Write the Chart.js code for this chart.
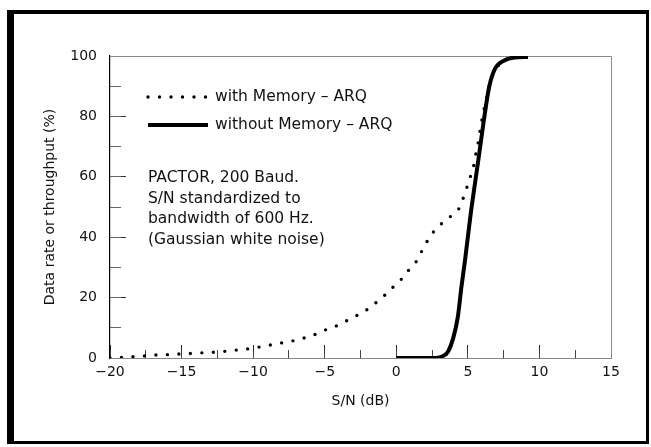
<!DOCTYPE html>
<html lang="en">
<head>
  <meta charset="UTF-8">
  <title>PACTOR throughput vs S/N</title>
  <script src="https://cdn.jsdelivr.net/npm/chart.js"></script>
  <style>
    html, body { margin: 0; padding: 0; background: #fff; }
    #wrap { position: relative; width: 651px; height: 447px; }
    #frame {
      position: absolute; left: 7px; top: 10px; width: 632px; height: 427px;
      border-left: 7px solid #000; border-top: 4px solid #000;
      border-right: 3px solid #000; border-bottom: 3px solid #000;
      pointer-events: none;
    }
    canvas { position: absolute; left: 0; top: 0; }
  </style>
</head>
<body>
  <div id="wrap">
    <canvas id="snChart" width="651" height="447"></canvas>
    <div id="frame"></div>
  </div>

  <script>
    // values
    const withMemX = [-20, -19.2, -18.4, -17.6, -16.8, -16, -15.2, -14.4, -13.6, -12.8, -12, -11.2, -10.4, -9.6, -8.8, -8, -7.2, -6.4, -5.6, -4.85, -4.1, -3.4, -2.7, -2.05, -1.4, -0.78, -0.22, 0.34, 0.85, 1.39, 1.78, 2.13, 2.59, 3.17, 3.8, 4.38, 4.68, 4.94, 5.2, 5.43, 5.57, 5.73, 5.85, 6.0, 6.3, 6.6, 7.0, 7.6, 8.3, 9.2];
    const withMemY = [0, 0.2, 0.4, 0.7, 1.0, 1.1, 1.3, 1.5, 1.7, 1.9, 2.2, 2.6, 3.0, 3.6, 4.3, 5.0, 5.7, 6.7, 7.9, 9.5, 10.8, 12.5, 14.2, 16, 18.4, 20.9, 23.5, 26, 29, 31.9, 35.4, 38.4, 41.7, 44.5, 46.9, 49.5, 53, 56.6, 60.4, 64.1, 67.9, 71.5, 75.4, 79.3, 86, 92, 96, 98.6, 99.5, 99.7];

    const noMemX = [0, 2.7, 3.2, 3.6, 4.0, 4.3, 4.55, 4.82, 5.18, 5.73, 6.25, 6.5, 6.9, 7.58, 8.28, 9.2];
    const noMemY = [0, 0, 0.5, 2, 7, 13.6, 23.5, 33, 47, 65.5, 83, 90, 95.8, 98.6, 99.5, 99.7];

    const seriesNames = ['with Memory \u2013 ARQ', 'without Memory \u2013 ARQ'];
    const noteLines = ['PACTOR, 200 Baud.', 'S/N standardized to', 'bandwidth of 600 Hz.', '(Gaussian white noise)'];

    const xTickValues = [-20, -15, -10, -5, 0, 5, 10, 15];
    const xTickLabels = ['\u221220', '\u221215', '\u221210', '\u22125', '0', '5', '10', '15'];
    const yTickValues = [0, 20, 40, 60, 80, 100];
    const yTickLabels = ['0', '20', '40', '60', '80', '100'];

    const FONT = 'DejaVu Sans';
    const INK = '#111';

    function toPoints(xs, ys) {
      return xs.map((x, i) => ({ x: x, y: ys[i] }));
    }

    function labelFor(values, labels) {
      return v => {
        const i = values.indexOf(v);
        return i >= 0 ? labels[i] : '';
      };
    }

    // thin box around the plot area (top and right sides)
    const plotBox = {
      id: 'plotBox',
      beforeDatasetsDraw(chart) {
        const { ctx, chartArea: a } = chart;
        ctx.save();
        ctx.strokeStyle = '#8a8a8a';
        ctx.lineWidth = 1;
        ctx.beginPath();
        ctx.moveTo(a.left, a.top + 0.5);
        ctx.lineTo(a.right + 0.5, a.top + 0.5);
        ctx.lineTo(a.right + 0.5, a.bottom);
        ctx.stroke();
        ctx.restore();
      }
    };

    // legend rows and the note, drawn inside the plot
    const insideText = {
      id: 'insideText',
      afterDatasetsDraw(chart) {
        const { ctx, chartArea: a } = chart;
        const x0 = a.left + 38;
        const lineLen = 60;
        ctx.save();
        ctx.font = '15.5px "' + FONT + '"';
        ctx.fillStyle = INK;
        ctx.textBaseline = 'middle';
        const rows = [a.top + 41, a.top + 69];
        chart.data.datasets.forEach((ds, i) => {
          const y = rows[i];
          ctx.save();
          ctx.strokeStyle = ds.borderColor;
          ctx.lineWidth = ds.borderWidth;
          ctx.lineCap = ds.borderCapStyle || 'butt';
          ctx.setLineDash(ds.borderDash || []);
          ctx.beginPath();
          ctx.moveTo(x0, y);
          ctx.lineTo(x0 + lineLen, y);
          ctx.stroke();
          ctx.restore();
          ctx.fillText(ds.label, x0 + lineLen + 7, y);
        });
        noteLines.forEach((t, i) => {
          ctx.fillText(t, x0, a.top + 122 + i * 20.5);
        });
        ctx.restore();
      }
    };

    new Chart(document.getElementById('snChart'), {
      type: 'line',
      data: {
        datasets: [{
          label: seriesNames[0],
          data: toPoints(withMemX, withMemY),
          borderColor: '#000',
          borderWidth: 3.4,
          borderDash: [0, 11.5],
          borderCapStyle: 'round',
          pointRadius: 0,
          cubicInterpolationMode: 'monotone',
          fill: false
        }, {
          label: seriesNames[1],
          data: toPoints(noMemX, noMemY),
          borderColor: '#000',
          borderWidth: 4,
          borderCapStyle: 'butt',
          pointRadius: 0,
          cubicInterpolationMode: 'monotone',
          fill: false
        }]
      },
      options: {
        responsive: false,
        animation: false,
        layout: { padding: { left: 34, top: 56, right: 40, bottom: 30 } },
        plugins: { legend: { display: false }, tooltip: { enabled: false } },
        scales: {
          x: {
            type: 'linear', position: 'bottom', min: -20, max: 15,
            afterBuildTicks: s => { s.ticks = xTickValues.map(v => ({ value: v })); },
            afterFit: s => { s.height = 59; },
            grid: { drawOnChartArea: false, tickLength: -13, color: '#222', lineWidth: 1 },
            border: { color: '#888', width: 1, dash: [6, 2] },
            ticks: { padding: 19, color: INK, font: { family: FONT, size: 14 }, maxRotation: 0, callback: labelFor(xTickValues, xTickLabels) },
            title: { display: true, text: 'S/N (dB)', color: INK, font: { family: FONT, size: 14 }, padding: { bottom: 7 } }
          },
          xMinor: {
            type: 'linear', position: 'bottom', min: -20, max: 15, weight: -1,
            ticks: { display: false, stepSize: 2.5 },
            afterFit: s => { s.height = 0; },
            grid: { drawOnChartArea: false, tickLength: -8, color: '#444', lineWidth: 1 },
            border: { display: false }
          },
          y: {
            type: 'linear', position: 'left', min: 0, max: 100,
            afterBuildTicks: s => { s.ticks = yTickValues.map(v => ({ value: v })); },
            afterFit: s => { s.width = 76; },
            grid: { drawOnChartArea: false, tickLength: -16, color: '#333', lineWidth: 1 },
            border: { color: '#000', width: 1.2 },
            ticks: { padding: 29, color: INK, font: { family: FONT, size: 14 }, callback: labelFor(yTickValues, yTickLabels) },
            title: { display: true, text: 'Data rate or throughput (%)', color: INK, font: { family: FONT, size: 14 }, padding: { top: 8 } }
          },
          yMinor: {
            type: 'linear', position: 'left', min: 0, max: 100, weight: -1,
            ticks: { display: false, stepSize: 10 },
            afterFit: s => { s.width = 0; },
            grid: { drawOnChartArea: false, tickLength: -11, color: '#666', lineWidth: 1 },
            border: { display: false }
          }
        }
      },
      plugins: [plotBox, insideText]
    });
  </script>
</body>
</html>
